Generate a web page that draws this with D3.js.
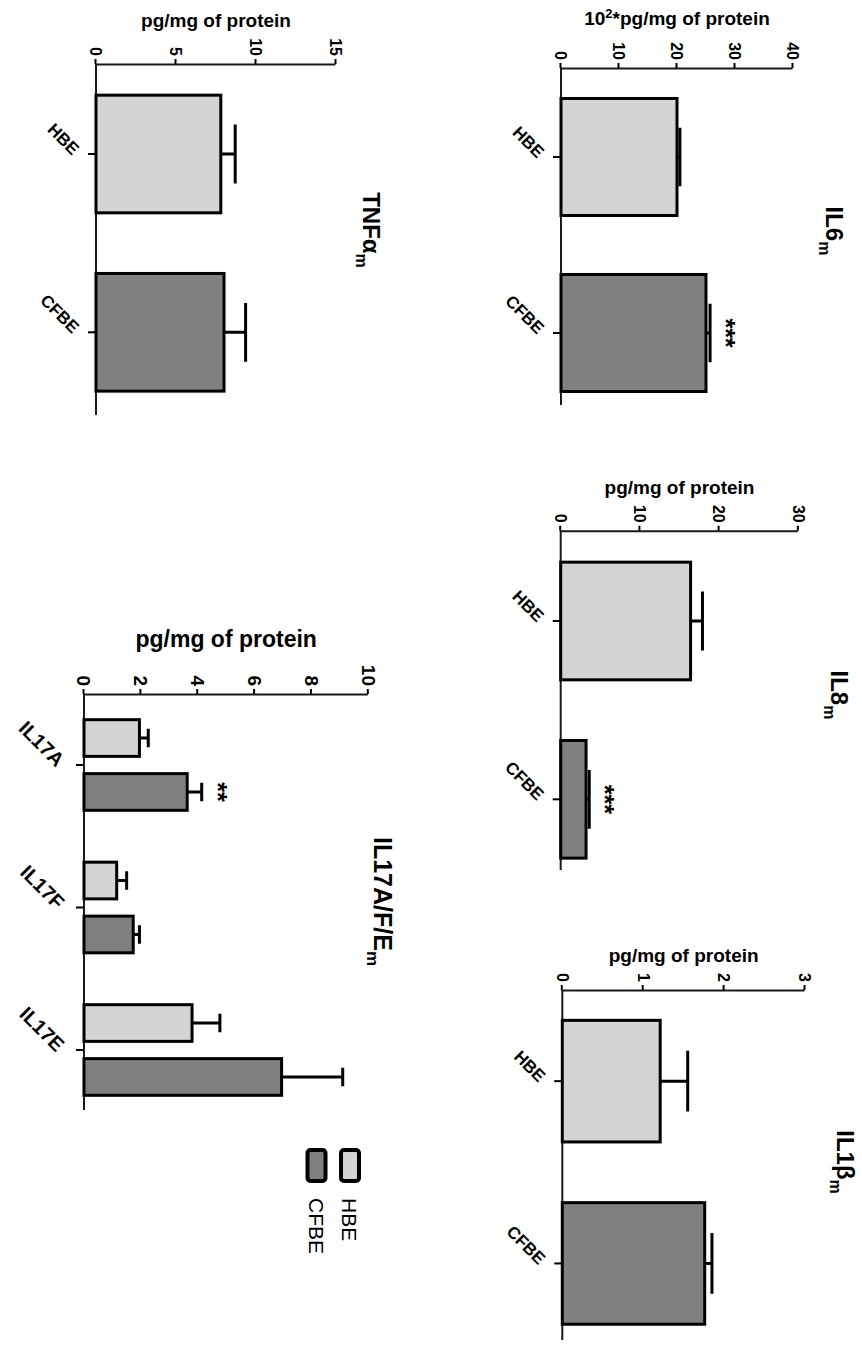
<!DOCTYPE html>
<html>
<head>
<meta charset="utf-8">
<script src="https://cdn.jsdelivr.net/npm/d3@7"></script>
<style>
  html, body { margin: 0; padding: 0; background: #fff; }
  svg { display: block; }
  text { font-family: "Liberation Sans", Arial, Helvetica, sans-serif; fill: #000; }
</style>
</head>
<body>
<svg id="chart" width="862" height="1346"></svg>
<script>
// ---------------- DATA ----------------
const groups = ["HBE", "CFBE"];
const groupFill = ["#d4d4d4", "#808080"];

const il6Mean = [20.0, 25.0];
const il6Err  = [0.5, 0.7];
const il6Sig  = ["", "***"];
const il6Ticks = [0, 10, 20, 30, 40];

const il8Mean = [16.4, 3.2];
const il8Err  = [1.5, 0.4];
const il8Sig  = ["", "***"];
const il8Ticks = [0, 10, 20, 30];

const il1bMean = [1.21, 1.76];
const il1bErr  = [0.34, 0.09];
const il1bSig  = ["", ""];
const il1bTicks = [0, 1, 2, 3];

const tnfMean = [7.8, 8.0];
const tnfErr  = [0.9, 1.35];
const tnfSig  = ["", ""];
const tnfTicks = [0, 5, 10, 15];

const il17Cats = ["IL17A", "IL17F", "IL17E"];
const il17HbeMean  = [1.95, 1.15, 3.8];
const il17HbeErr   = [0.31, 0.35, 0.98];
const il17CfbeMean = [3.63, 1.73, 6.95];
const il17CfbeErr  = [0.51, 0.22, 2.15];
const il17CfbeSig  = ["**", "", ""];
const il17Ticks = [0, 2, 4, 6, 8, 10];

// ---------------- DRAW ----------------
const svg = d3.select("#chart");
// The whole figure is a landscape figure rotated 90 degrees clockwise.
const root = svg.append("g").attr("transform", "translate(862,0) rotate(90)");
const FONT = '"Liberation Sans", Arial, Helvetica, sans-serif';

function styleAxis(g, fs) {
  g.attr("font-family", FONT).attr("font-size", fs);
  g.select(".domain").attr("stroke", "#1a1a1a").attr("stroke-width", 2);
  g.selectAll(".tick line").attr("stroke", "#000").attr("stroke-width", 2);
  g.selectAll(".tick text").attr("font-size", fs).attr("font-weight", "bold")
    .attr("font-family", FONT).attr("fill", "#000");
}

function addTitle(g, x, y, main, sub, fs, subFs) {
  const t = g.append("text").attr("x", x).attr("y", y).attr("text-anchor", "middle")
    .attr("font-weight", "bold").attr("font-size", fs);
  t.append("tspan").text(main);
  t.append("tspan").attr("font-size", subFs).attr("dy", fs * 0.28).text(sub);
}

function simplePanel(p) {
  const g = root.append("g");
  const y = d3.scaleLinear().domain([0, p.max]).range([p.y0, p.y1]);
  const x = d3.scaleBand().domain(groups).range(p.band).paddingInner(p.pad).paddingOuter(p.pad / 2);
  const bw = x.bandwidth();

  // value axis
  const ax = g.append("g").attr("transform", `translate(${p.axisX},0)`)
    .call(d3.axisLeft(y).tickValues(p.ticks).tickFormat(d3.format("d"))
      .tickSize(5).tickSizeOuter(0).tickPadding(3));
  styleAxis(ax, 16);

  // category baseline and ticks
  g.append("line").attr("x1", p.axisX).attr("x2", p.lineEnd).attr("y1", p.y0).attr("y2", p.y0)
    .attr("stroke", "#1a1a1a").attr("stroke-width", 2);
  groups.forEach(c => {
    const cx = x(c) + bw / 2;
    g.append("line").attr("x1", cx).attr("x2", cx).attr("y1", p.y0).attr("y2", p.y0 + 8)
      .attr("stroke", "#000").attr("stroke-width", 2);
    g.append("text").attr("transform", `translate(${cx + 2},${p.y0 + 24}) rotate(-45)`)
      .attr("text-anchor", "end").attr("font-weight", "bold").attr("font-size", 17).text(c);
  });

  // bars
  groups.forEach((c, i) => {
    const v = p.mean[i], e = p.err[i];
    const cx = x(c) + bw / 2;
    g.append("rect").attr("x", x(c)).attr("y", y(v)).attr("width", bw).attr("height", y(0) - y(v))
      .attr("fill", groupFill[i]).attr("stroke", "#000").attr("stroke-width", 3);
    g.append("path").attr("d", `M${cx},${y(v)}V${y(v + e)}M${cx - bw / 4},${y(v + e)}H${cx + bw / 4}`)
      .attr("stroke", "#000").attr("stroke-width", 3).attr("fill", "none");
    if (p.sig[i]) {
      g.append("text").attr("x", cx).attr("y", y(v + e) - 26).attr("dy", "0.75em")
        .attr("text-anchor", "middle").attr("font-weight", "bold").attr("font-size", 25)
        .text(p.sig[i]);
    }
  });

  // y axis title
  g.append("text").attr("transform", `translate(${p.axisX - p.titleOff},${(p.y0 + p.y1) / 2}) rotate(-90)`)
    .attr("text-anchor", "middle").attr("dy", "0.35em").attr("font-weight", "bold").attr("font-size", 19)
    .html(p.yTitle);

  addTitle(g, p.titleX, p.titleY, p.title, "m", 24, 16);
}

simplePanel({ mean: il6Mean, err: il6Err, sig: il6Sig, ticks: il6Ticks, max: 40,
  axisX: 68, y0: 301, y1: 69, band: [69, 421], pad: 0.335, lineEnd: 405,
  yTitle: '10<tspan dy="-7" font-size="13">2</tspan><tspan dy="7">*pg/mg of protein</tspan>', titleOff: 50,
  title: "IL6", titleX: 231, titleY: 36 });

simplePanel({ mean: il8Mean, err: il8Err, sig: il8Sig, ticks: il8Ticks, max: 30,
  axisX: 530.7, y0: 301.3, y1: 63.7, band: [531.85, 888.45], pad: 0.34, lineEnd: 870,
  yTitle: "pg/mg of protein", titleOff: 43,
  title: "IL8", titleX: 695, titleY: 31 });

simplePanel({ mean: il1bMean, err: il1bErr, sig: il1bSig, ticks: il1bTicks, max: 3,
  axisX: 990, y0: 299.7, y1: 57, band: [990, 1354.6], pad: 0.333, lineEnd: 1340,
  yTitle: "pg/mg of protein", titleOff: 35,
  title: "IL1β", titleX: 1162, titleY: 25 });

simplePanel({ mean: tnfMean, err: tnfErr, sig: tnfSig, ticks: tnfTicks, max: 15,
  axisX: 64, y0: 766, y1: 526, band: [64.85, 421.45], pad: 0.34, lineEnd: 415,
  yTitle: "pg/mg of protein", titleOff: 43.5,
  title: "TNFα", titleX: 230, titleY: 499 });

// ---------- IL17 grouped panel ----------
(function () {
  const g = root.append("g");
  const axisX = 694, y0 = 778, y1 = 493.7;
  const y = d3.scaleLinear().domain([0, 10]).range([y0, y1]);
  const x0 = d3.scaleBand().domain(il17Cats).range([693.75, 1121.25]).paddingInner(0.364).paddingOuter(0.182);
  const x1 = d3.scaleBand().domain(groups).range([0, x0.bandwidth()]).paddingInner(0.32);
  const bw = x1.bandwidth();

  const ax = g.append("g").attr("transform", `translate(${axisX},0)`)
    .call(d3.axisLeft(y).tickValues(il17Ticks).tickFormat(d3.format("d"))
      .tickSize(5).tickSizeOuter(0).tickPadding(3));
  styleAxis(ax, 19);

  g.append("line").attr("x1", axisX).attr("x2", 1110).attr("y1", y0).attr("y2", y0)
    .attr("stroke", "#1a1a1a").attr("stroke-width", 2);

  const means = [il17HbeMean, il17CfbeMean];
  const errs = [il17HbeErr, il17CfbeErr];
  const sigs = [["", "", ""], il17CfbeSig];

  il17Cats.forEach((c, j) => {
    const cx = x0(c) + x0.bandwidth() / 2;
    g.append("line").attr("x1", cx).attr("x2", cx).attr("y1", y0).attr("y2", y0 + 8)
      .attr("stroke", "#000").attr("stroke-width", 2);
    g.append("text").attr("transform", `translate(${cx + 3},${y0 + 28}) rotate(-45)`)
      .attr("text-anchor", "end").attr("font-weight", "bold").attr("font-size", 20).text(c);
    groups.forEach((grp, i) => {
      const v = means[i][j], e = errs[i][j];
      const bx = x0(c) + x1(grp);
      const bc = bx + bw / 2;
      g.append("rect").attr("x", bx).attr("y", y(v)).attr("width", bw).attr("height", y(0) - y(v))
        .attr("fill", groupFill[i]).attr("stroke", "#000").attr("stroke-width", 3);
      g.append("path").attr("d", `M${bc},${y(v)}V${y(v + e)}M${bc - bw / 4},${y(v + e)}H${bc + bw / 4}`)
        .attr("stroke", "#000").attr("stroke-width", 3).attr("fill", "none");
      if (sigs[i][j]) {
        g.append("text").attr("x", bc).attr("y", y(v + e) - 26).attr("dy", "0.75em").attr("text-anchor", "middle")
          .attr("font-weight", "bold").attr("font-size", 25).text(sigs[i][j]);
      }
    });
  });

  g.append("text").attr("transform", `translate(${axisX - 55},${(y0 + y1) / 2}) rotate(-90)`)
    .attr("text-anchor", "middle").attr("dy", "0.35em").attr("font-weight", "bold").attr("font-size", 23)
    .text("pg/mg of protein");

  addTitle(g, 901.5, 488, "IL17A/F/E", "m", 25, 17);

  // legend
  const leg = g.append("g");
  [0, 1].forEach(i => {
    const ly = 503 + i * 33.5;
    leg.append("rect").attr("x", 1150).attr("y", ly).attr("width", 31).attr("height", 18).attr("rx", 3)
      .attr("fill", groupFill[i]).attr("stroke", "#000").attr("stroke-width", 4);
    leg.append("text").attr("x", 1198).attr("y", ly + 17).attr("font-size", 21).text(groups[i]);
  });
})();
</script>
</body>
</html>
